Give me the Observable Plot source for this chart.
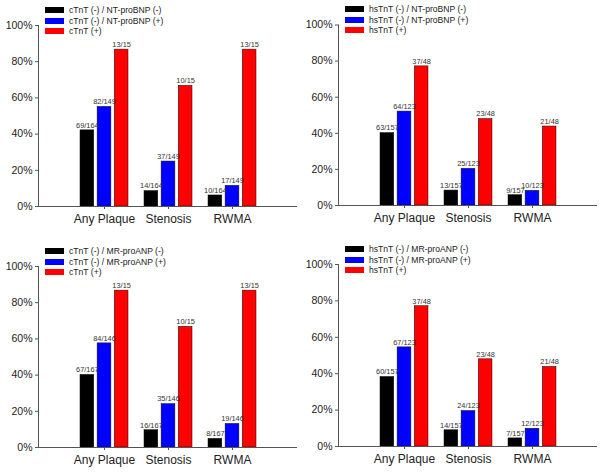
<!DOCTYPE html>
<html>
<head>
<meta charset="utf-8">
<script src="https://cdn.jsdelivr.net/npm/d3@7"></script>
<script src="https://cdn.jsdelivr.net/npm/@observablehq/plot@0.6"></script>
<style>
  html, body { margin: 0; padding: 0; background: #fff; }
  #root { position: relative; width: 605px; height: 476px; overflow: hidden; font-family: "Liberation Sans", Arial, sans-serif; }
  .panel { position: absolute; }
  .legend { position: absolute; font-size: 8.6px; color: #222; line-height: 10.6px; }
  .legend .row { display: flex; align-items: center; white-space: nowrap; height: 10.6px; }
  .legend .sw { display: inline-block; width: 19px; height: 6px; margin-right: 5px; }
</style>
</head>
<body>
<div id="root"></div>
<script>
// ---- data ----
const categories = ["Any Plaque", "Stenosis", "RWMA"];
const tickValues = [0, 20, 40, 60, 80, 100];
const seriesColors = ["#000000", "#0000ff", "#ff0000"];

const p1Series = ["cTnT (-) / NT-proBNP (-)", "cTnT (-) / NT-proBNP (+)", "cTnT (+)"];
const p1Num = [[69, 14, 10], [82, 37, 17], [13, 10, 13]];
const p1Den = [[164, 164, 164], [149, 149, 149], [15, 15, 15]];

const p2Series = ["hsTnT (-) / NT-proBNP (-)", "hsTnT (-) / NT-proBNP (+)", "hsTnT (+)"];
const p2Num = [[63, 13, 9], [64, 25, 10], [37, 23, 21]];
const p2Den = [[157, 157, 157], [123, 123, 123], [48, 48, 48]];

const p3Series = ["cTnT (-) / MR-proANP (-)", "cTnT (-) / MR-proANP (+)", "cTnT (+)"];
const p3Num = [[67, 16, 8], [84, 35, 19], [13, 10, 13]];
const p3Den = [[167, 167, 167], [146, 146, 146], [15, 15, 15]];

const p4Series = ["hsTnT (-) / MR-proANP (-)", "hsTnT (-) / MR-proANP (+)", "hsTnT (+)"];
const p4Num = [[60, 14, 7], [67, 24, 12], [37, 23, 21]];
const p4Den = [[157, 157, 157], [123, 123, 123], [48, 48, 48]];

// ---- layout (positions/sizes) ----
const panels = [
  {series: p1Series, num: p1Num, den: p1Den, left: 0,   top: 0,   width: 300, height: 240, mL: 38, mR: 3, mT: 25, mB: 34, legTop: 5},
  {series: p2Series, num: p2Num, den: p2Den, left: 300, top: 0,   width: 305, height: 240, mL: 38, mR: 8, mT: 24.5, mB: 35, legTop: 4},
  {series: p3Series, num: p3Num, den: p3Den, left: 0,   top: 240, width: 300, height: 236, mL: 38, mR: 3, mT: 26, mB: 29, legTop: 6},
  {series: p4Series, num: p4Num, den: p4Den, left: 300, top: 240, width: 305, height: 236, mL: 38, mR: 8, mT: 24, mB: 30, legTop: 4}
];

const root = document.getElementById("root");
const padInner = 0.25, padOuter = 0.625;

for (const p of panels) {
  const rows = [];
  p.series.forEach((s, si) => categories.forEach((c, ci) => {
    rows.push({series: s, si, cat: c, pct: p.num[si][ci] / p.den[si][ci] * 100, lab: p.num[si][ci] + "/" + p.den[si][ci]});
  }));
  const iw = p.width - p.mL - p.mR;
  const step = iw / (categories.length - padInner + 2 * padOuter);
  const bw = step * (1 - padInner);
  const gap = 2.8;
  const barW = (bw - 2 * gap) / 3;
  const pitch = barW + gap;

  const barMarks = [], textMarks = [];
  p.series.forEach((s, si) => {
    const sub = rows.filter(r => r.si === si);
    barMarks.push(Plot.barY(sub, {x: "cat", y: "pct", fill: seriesColors[si], stroke: "#111", strokeWidth: 0.5,
      insetLeft: si * pitch, insetRight: (2 - si) * pitch}));
    textMarks.push(Plot.text(sub, {x: "cat", y: "pct", text: "lab", dx: (si - 1) * pitch, dy: -5,
      fontSize: 7.4, fill: "#333", textAnchor: "middle"}));
  });
  const marks = [
    ...barMarks,
    ...textMarks,
    Plot.ruleY([0], {stroke: "#555", strokeWidth: 1}),
    Plot.frame({anchor: "left", stroke: "#555", strokeWidth: 1}),
    Plot.axisY({ticks: tickValues, tickFormat: d => d + "%", tickSize: 3, tickPadding: 3, fontSize: 10.5, label: null, stroke: "#555"}),
    Plot.axisX({tickSize: 3, tickPadding: 5, fontSize: 12, label: null, stroke: "#555"})
  ];

  const chart = Plot.plot({
    width: p.width, height: p.height,
    marginLeft: p.mL, marginRight: p.mR, marginTop: p.mT, marginBottom: p.mB,
    x: {domain: categories, paddingInner: padInner, paddingOuter: padOuter, axis: null},
    y: {domain: [0, 100], axis: null},
    style: {fontFamily: "'Liberation Sans', Arial, sans-serif", background: "transparent", color: "#222", overflow: "visible"},
    marks
  });

  const div = document.createElement("div");
  div.className = "panel";
  div.style.left = p.left + "px";
  div.style.top = p.top + "px";
  div.style.width = p.width + "px";
  div.style.height = p.height + "px";
  div.appendChild(chart);

  const leg = document.createElement("div");
  leg.className = "legend";
  leg.style.left = "45px";
  leg.style.top = p.legTop + "px";
  p.series.forEach((s, si) => {
    const r = document.createElement("div");
    r.className = "row";
    const sw = document.createElement("span");
    sw.className = "sw";
    sw.style.background = seriesColors[si];
    const t = document.createElement("span");
    t.textContent = s;
    r.appendChild(sw); r.appendChild(t);
    leg.appendChild(r);
  });
  div.appendChild(leg);
  root.appendChild(div);
}
</script>
</body>
</html>
